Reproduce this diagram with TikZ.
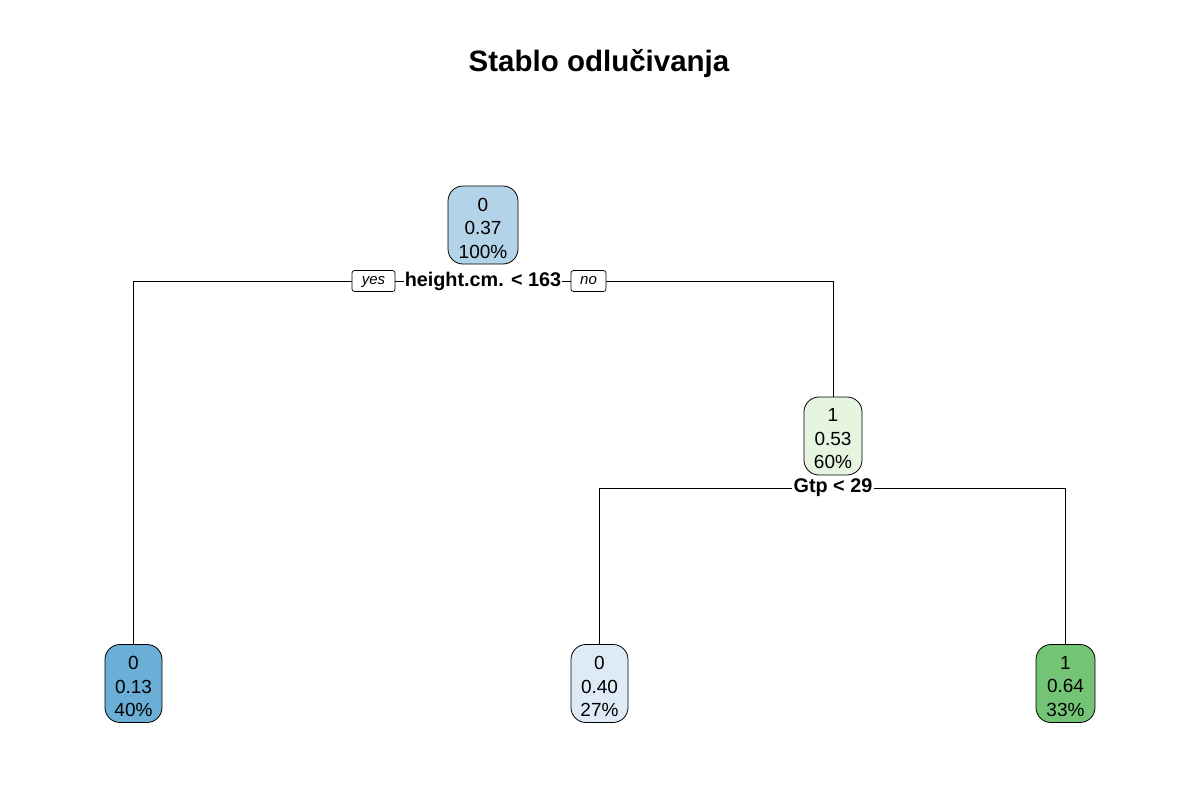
\documentclass[tikz,border=0pt]{standalone}
\usepackage{fontspec}
\setmainfont{Liberation Sans}
\usetikzlibrary{backgrounds}
\definecolor{cRoot}{HTML}{B3D3E8}
\definecolor{cMid}{HTML}{E5F5E0}
\definecolor{cLa}{HTML}{6BAED6}
\definecolor{cLb}{HTML}{DEEBF7}
\definecolor{cLc}{HTML}{74C476}
\tikzset{
  treenode/.style={draw=black, line width=0.8pt, rounded corners=15pt,
    minimum height=78pt, minimum width=58pt, inner sep=0pt},
  nodetext/.style={align=center, inner sep=0pt, yshift=-3pt,
    font=\fontsize{19}{23.5}\selectfont},
  splitlabel/.style={fill=white, inner sep=1.2pt, font=\fontsize{19.8}{23}\selectfont\bfseries},
  yesno/.style={draw=black, line width=0.7pt, fill=white, rounded corners=2.5pt,
    minimum width=35pt, minimum height=21pt, inner sep=1pt,
    text height=8pt, text depth=2pt,
    font=\fontsize{15}{18}\selectfont\itshape},
  conn/.style={draw=black, line width=0.8pt}
}
\begin{document}
\begin{tikzpicture}[x=1pt,y=-1pt]
\useasboundingbox (0,0) rectangle (1200,800);
\node[font=\fontsize{29.5}{34}\selectfont\bfseries] (title) at (599,64) {Stablo odlučivanja};
\node[treenode, fill=cRoot, minimum width=70pt, label={[nodetext]center:0\\0.37\\100\%}] (n1) at (483,225) {};
\node[treenode, fill=cMid, label={[nodetext]center:1\\0.53\\60\%}] (n2) at (833,436) {};
\node[treenode, fill=cLa, minimum width=57pt, label={[nodetext]center:0\\0.13\\40\%}] (l1) at (133.5,683.5) {};
\node[treenode, fill=cLb, minimum width=57pt, label={[nodetext]center:0\\0.40\\27\%}] (l2) at (599.5,683.5) {};
\node[treenode, fill=cLc, minimum width=59pt, label={[nodetext]center:1\\0.64\\33\%}] (l3) at (1065.5,683.5) {};
\node[splitlabel] (s1) at (483,281) {height.cm. < 163};
\node[yesno, minimum width=43pt] (yes) at (373.5,281) {yes};
\node[yesno] (no) at (588.5,281) {no};
\node[splitlabel] (s2) at (833,488) {Gtp < 29};
\begin{pgfonlayer}{background}
\draw[conn] (l1.north) -- (l1.north |- s1) -- (n2.north |- s1) -- (n2.north);
\draw[conn] (l2.north) -- (l2.north |- s2) -- (l3.north |- s2) -- (l3.north);
\end{pgfonlayer}
\end{tikzpicture}
\end{document}
